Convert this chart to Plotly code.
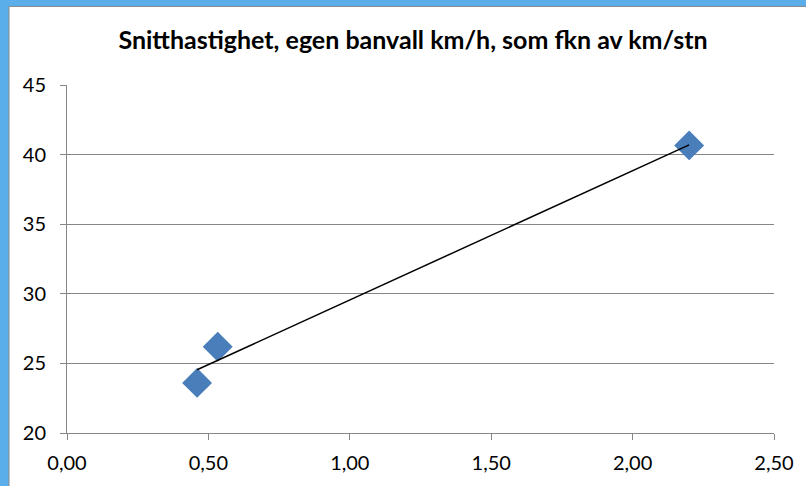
import numpy as np
import plotly.graph_objects as go

km_per_stn = [0.46, 0.533, 2.20]
snitthastighet = [23.6, 26.2, 40.66]
title_text = "Snitthastighet, egen banvall km/h, som fkn av km/stn"
x_ticks = [0, 0.5, 1.0, 1.5, 2.0, 2.5]
y_ticks = [20, 25, 30, 35, 40, 45]

slope, intercept = np.polyfit(km_per_stn, snitthastighet, 1)
tx = [min(km_per_stn), max(km_per_stn)]
ty = [slope * v + intercept for v in tx]

W, H = 806, 486
L, R, T, B = 67, 32, 85, 51
pw, ph = W - L - R, H - T - B

def px2x(p):
    return (p - L) / pw

def py2y(p):
    return (H - B - p) / ph

fig = go.Figure()
fig.add_trace(go.Scatter(x=km_per_stn, y=snitthastighet, mode="markers",
                         marker=dict(symbol="diamond", size=23, color="#4A7EBB",
                                     line=dict(width=0)),
                         showlegend=False, hoverinfo="skip"))
fig.add_trace(go.Scatter(x=tx, y=ty, mode="lines",
                         line=dict(color="black", width=1.5),
                         showlegend=False, hoverinfo="skip"))

fig.add_shape(type="rect", xref="paper", yref="paper", layer="below",
              x0=px2x(9), x1=px2x(W + 5), y0=py2y(H + 5), y1=py2y(6),
              fillcolor="white", line=dict(color="#8A8A8A", width=1))

fig.update_layout(
    width=W, height=H,
    margin=dict(l=L, r=R, t=T, b=B),
    paper_bgcolor="#5AAEEA",
    plot_bgcolor="rgba(0,0,0,0)",
    separators=",.",
    hovermode=False,
    font=dict(family="Lato, Open Sans, sans-serif", size=20, color="black"),
    title=dict(text="<b>" + title_text + "</b>", x=413 / W, xanchor="center",
               y=1 - 40 / H, yanchor="middle",
               font=dict(size=25, color="black")),
    xaxis=dict(range=[0, 2.5], tickvals=x_ticks, tickformat=".2f",
               showgrid=False, zeroline=False, showline=True,
               linecolor="#868686", linewidth=1, ticks="outside",
               ticklen=6, tickcolor="#868686", mirror=False,
               ticklabelstandoff=6),
    yaxis=dict(range=[20, 45], tickvals=y_ticks, showgrid=True,
               gridcolor="#868686", gridwidth=1, zeroline=False,
               showline=True, linecolor="#868686", linewidth=1,
               ticks="outside", ticklen=6, tickcolor="#868686",
               ticklabelstandoff=10),
)
fig.write_html("out.html", config={"displayModeBar": False},
               post_script="document.body.style.margin='0';")
